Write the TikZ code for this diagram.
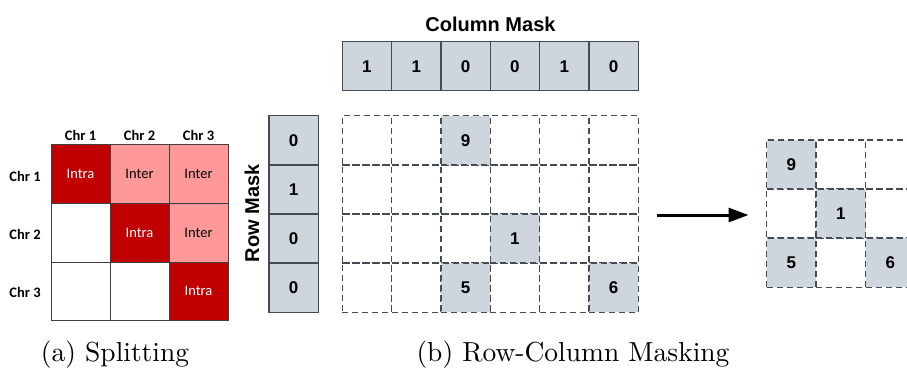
\documentclass[tikz,border=0pt]{standalone}
\usepackage{fontspec}
\newfontfamily\carl{Carlito}
\newfontfamily\ari{Liberation Sans}
\newfontfamily\capfont{lmroman10-regular}[Extension=.otf]
\usetikzlibrary{arrows.meta}
\definecolor{intra}{HTML}{C00000}
\definecolor{inter}{HTML}{FF9999}
\definecolor{maskfill}{HTML}{CFD5DD}
\definecolor{maskline}{HTML}{454B53}
\begin{document}
\begin{tikzpicture}[x=1pt,y=-1pt,
  chr/.style={font=\carl\bfseries\fontsize{14.5}{17}\selectfont},
  hc/.style={draw=black!75, line width=0.6pt, minimum width=59pt, minimum height=58.9pt, inner sep=0pt, outer sep=0pt, font=\carl\fontsize{14.5}{17}\selectfont},
  intracell/.style={hc, fill=intra, text=white},
  intercell/.style={hc, fill=inter},
  maskcell/.style={draw=maskline, fill=maskfill, line width=1.4pt, minimum width=49.3pt, minimum height=49.1pt, inner sep=0pt, outer sep=0pt, font=\ari\bfseries\fontsize{17}{20}\selectfont},
  dcell/.style={draw=maskline, dash pattern=on 6pt off 4pt, line width=1.5pt, minimum width=49.3pt, minimum height=49.1pt, inner sep=0pt, outer sep=0pt, font=\ari\bfseries\fontsize{17}{20}\selectfont},
  dfill/.style={dcell, fill=maskfill},
  title/.style={font=\ari\bfseries\fontsize{20}{24}\selectfont},
  caption/.style={anchor=base, font=\capfont\fontsize{27.5}{32}\selectfont, inner sep=0pt}
]
\useasboundingbox (0,0) rectangle (907,368);

% ---------- (a) Splitting ----------
\node[chr] (c1) at (80.5,135) {Chr 1};
\node[chr] (c2) at (139.5,135) {Chr 2};
\node[chr] (c3) at (198.5,135) {Chr 3};
\node[chr] (r1) at (25,176) {Chr 1};
\node[chr] (r2) at (25,234) {Chr 2};
\node[chr] (r3) at (25,292) {Chr 3};

\node[intracell] (a11) at (80.5,173.5) {Intra};
\node[intercell] (a12) at (139.5,173.5) {Inter};
\node[intercell] (a13) at (198.5,173.5) {Inter};
\node[hc] (a21) at (80.5,232.4) {};
\node[intracell] (a22) at (139.5,232.4) {Intra};
\node[intercell] (a23) at (198.5,232.4) {Inter};
\node[hc] (a31) at (80.5,291.3) {};
\node[hc] (a32) at (139.5,291.3) {};
\node[intracell] (a33) at (198.5,291.3) {Intra};

\node[caption] (capa) at (115,361) {(a) Splitting};

% ---------- (b) Row-Column Masking ----------
\node[title] (ctitle) at (490.5,24) {Column Mask};
\foreach \v [count=\i from 0] in {1,1,0,0,1,0}{
  \node[maskcell] (cm\i) at ({342.3+24.65+49.33*\i},66.2) {\v};
}
\node[title, rotate=90] (rtitle) at (252,213.5) {Row Mask};
\foreach \v [count=\j from 0] in {0,1,0,0}{
  \node[maskcell] (rm\j) at (293.7,{115.7+24.57+49.15*\j}) {\v};
}

% dashed 6x4 grid
\foreach \j in {0,...,3}{
  \foreach \i in {0,...,5}{
    \node[dcell] (g\j\i) at ({342.3+24.65+49.33*\i},{115.7+24.57+49.15*\j}) {};
  }
}
\node[dfill] (g02f) at (g02) {9};
\node[dfill] (g23f) at (g23) {1};
\node[dfill] (g32f) at (g32) {5};
\node[dfill] (g35f) at (g35) {6};

\node[caption] (capb) at (573,361) {(b) Row-Column Masking};

% arrow
\coordinate (arS) at (656.7,215);
\coordinate (arE) at (748.5,215);
\draw[line width=3pt, -{Triangle[length=20pt,width=14pt]}] (arS) -- (arE);

% result 3x3 grid (cut at the right edge)
\begin{scope}
\clip (0,0) rectangle (907,368);
\foreach \j in {0,...,2}{
  \foreach \i in {0,...,2}{
    \node[dcell] (h\j\i) at ({766.7+24.65+49.5*\i},{140+24.55+49.1*\j}) {};
  }
}
\node[dfill] (h00f) at (h00) {9};
\node[dfill] (h11f) at (h11) {1};
\node[dfill] (h20f) at (h20) {5};
\node[dfill] (h22f) at (h22) {6};
\end{scope}
\end{tikzpicture}
\end{document}
